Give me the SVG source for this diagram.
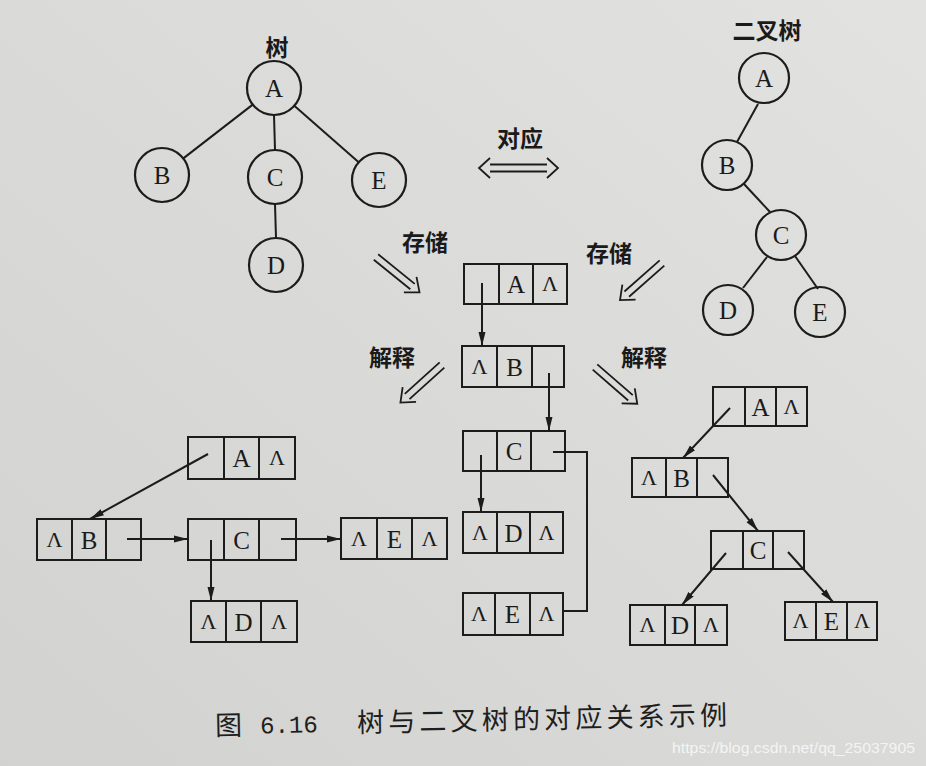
<svg xmlns="http://www.w3.org/2000/svg" width="926" height="766" viewBox="0 0 926 766">
<style>
.ln{stroke:#1c1c1c;stroke-width:2;fill:none}
.bx{stroke:#1c1c1c;stroke-width:2;fill:none}
.cir{stroke:#1c1c1c;stroke-width:2.2;fill:none}
.lt{font-family:"Liberation Serif","DejaVu Serif",serif;font-size:25px;fill:#1a1a1a;text-anchor:middle}
.lam{font-family:"Liberation Serif","DejaVu Serif",serif;font-size:22px;fill:#1a1a1a;text-anchor:middle}
.cjk{font-family:"Noto Sans CJK SC","Noto Sans",sans-serif;font-size:23px;font-weight:bold;fill:#1a1a1a;text-anchor:middle}
.cap{font-family:"Liberation Serif","Noto Sans CJK SC",serif;font-size:27px;fill:#1e1e1e}
.num{font-family:"Liberation Mono","DejaVu Sans Mono",monospace;font-size:24px;fill:#1e1e1e}
.wm{font-family:"Liberation Sans",Arial,sans-serif;font-size:15px;fill:#f4f4f4}
.dbl{stroke:#1c1c1c;stroke-width:1.8;fill:none;stroke-linejoin:miter}
</style>
<defs>
<linearGradient id="bg" x1="0" y1="1" x2="1" y2="0">
<stop offset="0" stop-color="#d2d2d0"/>
<stop offset="1" stop-color="#e2e2e0"/>
</linearGradient>
<marker id="ah" markerUnits="userSpaceOnUse" markerWidth="14" markerHeight="8" refX="14" refY="4" orient="auto">
<path d="M0,0.5 L14,4 L0,7.5 z" fill="#1c1c1c"/>
</marker>
<path id="darr" class="dbl" d="M0,-3.5 H47 M0,3.5 H47 M44,-10 L56,0 L44,10"/>
</defs>
<rect width="926" height="766" fill="url(#bg)"/>

<!-- labels -->
<g id="labels">
<text class="cjk" x="277" y="56">树</text>
<text class="cjk" x="767" y="39">二叉树</text>
<text class="cjk" x="520" y="147">对应</text>
<text class="cjk" x="425" y="251">存储</text>
<text class="cjk" x="609" y="262">存储</text>
<text class="cjk" x="392" y="366">解释</text>
<text class="cjk" x="644" y="366">解释</text>
</g>

<!-- hollow double arrows -->
<g id="big-arrows">
<path class="dbl" d="M490,164.5 H547 M490,171.5 H547 M490,158 L479,168 L490,178 M547,158 L558,168 L547,178"/>
<use href="#darr" transform="translate(376,257) rotate(39)"/>
<use href="#darr" transform="translate(662,263) rotate(138.6)"/>
<use href="#darr" transform="translate(442,365) rotate(137.9)"/>
<use href="#darr" transform="translate(595,367) rotate(41)"/>
</g>

<!-- tree (left) -->
<g id="tree-edges">
<line class="ln" x1="252.7" y1="104.6" x2="183.3" y2="158.4"/>
<line class="ln" x1="274" y1="115" x2="275" y2="150"/>
<line class="ln" x1="294.3" y1="105.8" x2="358.7" y2="162.2"/>
<line class="ln" x1="275" y1="204" x2="276" y2="238"/>
</g>
<g id="t-A"><circle class="cir" cx="274" cy="88" r="27"/><text class="lt" x="274" y="96.5">A</text></g>
<g id="t-B"><circle class="cir" cx="162" cy="175" r="27"/><text class="lt" x="162" y="183.5">B</text></g>
<g id="t-C"><circle class="cir" cx="275" cy="177" r="27"/><text class="lt" x="275" y="185.5">C</text></g>
<g id="t-E"><circle class="cir" cx="379" cy="180" r="27"/><text class="lt" x="379" y="188.5">E</text></g>
<g id="t-D"><circle class="cir" cx="276" cy="265" r="27"/><text class="lt" x="276" y="273.5">D</text></g>

<!-- binary tree (right) -->
<g id="bt-edges">
<line class="ln" x1="758" y1="104" x2="737" y2="142"/>
<line class="ln" x1="744" y1="184" x2="770" y2="212"/>
<line class="ln" x1="767" y1="257" x2="743" y2="288"/>
<line class="ln" x1="795" y1="256" x2="818" y2="289"/>
</g>
<g id="bt-A"><circle class="cir" cx="764" cy="78" r="25"/><text class="lt" x="764" y="86.5">A</text></g>
<g id="bt-B"><circle class="cir" cx="727" cy="165" r="25"/><text class="lt" x="727" y="173.5">B</text></g>
<g id="bt-C"><circle class="cir" cx="781" cy="235" r="25"/><text class="lt" x="781" y="243.5">C</text></g>
<g id="bt-D"><circle class="cir" cx="728" cy="310" r="25"/><text class="lt" x="728" y="318.5">D</text></g>
<g id="bt-E"><circle class="cir" cx="820" cy="312" r="25"/><text class="lt" x="820" y="320.5">E</text></g>

<!-- center storage list -->
<g id="m-A"><rect class="bx" x="464" y="264" width="103" height="40"/><line class="ln" x1="499" y1="264" x2="499" y2="304"/><line class="ln" x1="533" y1="264" x2="533" y2="304"/><text class="lt" x="516" y="292.5">A</text><text class="lam" x="550" y="291">Λ</text></g>
<g id="m-B"><rect class="bx" x="462" y="346" width="102" height="41"/><line class="ln" x1="497" y1="346" x2="497" y2="387"/><line class="ln" x1="532" y1="346" x2="532" y2="387"/><text class="lam" x="479.5" y="374">Λ</text><text class="lt" x="514.5" y="375.5">B</text></g>
<g id="m-C"><rect class="bx" x="463" y="431" width="102" height="40"/><line class="ln" x1="497" y1="431" x2="497" y2="471"/><line class="ln" x1="531" y1="431" x2="531" y2="471"/><text class="lt" x="514" y="459.5">C</text></g>
<g id="m-D"><rect class="bx" x="463" y="512" width="100" height="41"/><line class="ln" x1="497" y1="512" x2="497" y2="553"/><line class="ln" x1="530" y1="512" x2="530" y2="553"/><text class="lam" x="480" y="540">Λ</text><text class="lt" x="513.5" y="541.5">D</text><text class="lam" x="546.5" y="540">Λ</text></g>
<g id="m-E"><rect class="bx" x="463" y="593" width="100" height="42"/><line class="ln" x1="495" y1="593" x2="495" y2="635"/><line class="ln" x1="530" y1="593" x2="530" y2="635"/><text class="lam" x="479" y="621">Λ</text><text class="lt" x="512.5" y="622.5">E</text><text class="lam" x="546.5" y="621">Λ</text></g>

<!-- left list -->
<g id="l-A"><rect class="bx" x="188" y="437" width="107" height="42"/><line class="ln" x1="224" y1="437" x2="224" y2="479"/><line class="ln" x1="259" y1="437" x2="259" y2="479"/><text class="lt" x="241.5" y="466.5">A</text><text class="lam" x="277" y="465">Λ</text></g>
<g id="l-B"><rect class="bx" x="37" y="519" width="104" height="41"/><line class="ln" x1="72" y1="519" x2="72" y2="560"/><line class="ln" x1="106" y1="519" x2="106" y2="560"/><text class="lam" x="54.5" y="547">Λ</text><text class="lt" x="89" y="548.5">B</text></g>
<g id="l-C"><rect class="bx" x="188" y="519" width="108" height="41"/><line class="ln" x1="224" y1="519" x2="224" y2="560"/><line class="ln" x1="259" y1="519" x2="259" y2="560"/><text class="lt" x="241.5" y="548.5">C</text></g>
<g id="l-E"><rect class="bx" x="341" y="518" width="106" height="41"/><line class="ln" x1="377" y1="518" x2="377" y2="559"/><line class="ln" x1="412" y1="518" x2="412" y2="559"/><text class="lam" x="359" y="546">Λ</text><text class="lt" x="394.5" y="547.5">E</text><text class="lam" x="429.5" y="546">Λ</text></g>
<g id="l-D"><rect class="bx" x="191" y="601" width="106" height="41"/><line class="ln" x1="226" y1="601" x2="226" y2="642"/><line class="ln" x1="261" y1="601" x2="261" y2="642"/><text class="lam" x="208.5" y="629">Λ</text><text class="lt" x="243.5" y="630.5">D</text><text class="lam" x="279" y="629">Λ</text></g>

<!-- right list -->
<g id="r-A"><rect class="bx" x="713" y="387" width="94" height="39"/><line class="ln" x1="745" y1="387" x2="745" y2="426"/><line class="ln" x1="776" y1="387" x2="776" y2="426"/><text class="lt" x="760.5" y="415.5">A</text><text class="lam" x="791.5" y="414">Λ</text></g>
<g id="r-B"><rect class="bx" x="632" y="458" width="96" height="39"/><line class="ln" x1="666" y1="458" x2="666" y2="497"/><line class="ln" x1="697" y1="458" x2="697" y2="497"/><text class="lam" x="649" y="485">Λ</text><text class="lt" x="681.5" y="486.5">B</text></g>
<g id="r-C"><rect class="bx" x="711" y="531" width="93" height="38"/><line class="ln" x1="743" y1="531" x2="743" y2="569"/><line class="ln" x1="773" y1="531" x2="773" y2="569"/><text class="lt" x="758" y="558.5">C</text></g>
<g id="r-D"><rect class="bx" x="630" y="605" width="97" height="40"/><line class="ln" x1="665" y1="605" x2="665" y2="645"/><line class="ln" x1="695" y1="605" x2="695" y2="645"/><text class="lam" x="647.5" y="632">Λ</text><text class="lt" x="680" y="633.5">D</text><text class="lam" x="711" y="632">Λ</text></g>
<g id="r-E"><rect class="bx" x="785" y="602" width="92" height="38"/><line class="ln" x1="816" y1="602" x2="816" y2="640"/><line class="ln" x1="847" y1="602" x2="847" y2="640"/><text class="lam" x="800.5" y="628">Λ</text><text class="lt" x="831.5" y="629.5">E</text><text class="lam" x="862" y="628">Λ</text></g>

<!-- connectors -->
<g id="connectors">
<line class="ln" x1="482" y1="283" x2="482" y2="346" marker-end="url(#ah)"/>
<line class="ln" x1="549" y1="373" x2="549" y2="431" marker-end="url(#ah)"/>
<line class="ln" x1="481" y1="455" x2="481" y2="512" marker-end="url(#ah)"/>
<polyline class="ln" points="553,452 587,452 587,611 563,611"/>

<line class="ln" x1="208" y1="454" x2="90" y2="519" marker-end="url(#ah)"/>
<line class="ln" x1="127" y1="539" x2="188" y2="539" marker-end="url(#ah)"/>
<line class="ln" x1="281" y1="539" x2="341" y2="539" marker-end="url(#ah)"/>
<line class="ln" x1="211" y1="540" x2="211" y2="601" marker-end="url(#ah)"/>

<line class="ln" x1="730" y1="408" x2="683" y2="458" marker-end="url(#ah)"/>
<line class="ln" x1="713" y1="475" x2="758" y2="531" marker-end="url(#ah)"/>
<line class="ln" x1="726" y1="553" x2="682" y2="605" marker-end="url(#ah)"/>
<line class="ln" x1="788" y1="552" x2="833" y2="602" marker-end="url(#ah)"/>
</g>

<!-- caption -->
<g id="caption" transform="rotate(-1.2 470 718)">
<text class="cap" x="215" y="730">图</text>
<text class="num" x="260" y="729">6.16</text>
<text class="cap" x="357" y="730" textLength="370">树与二叉树的对应关系示例</text>
</g>
<text class="wm" x="672" y="753" textLength="243" lengthAdjust="spacingAndGlyphs">https://blog.csdn.net/qq_25037905</text>
</svg>
